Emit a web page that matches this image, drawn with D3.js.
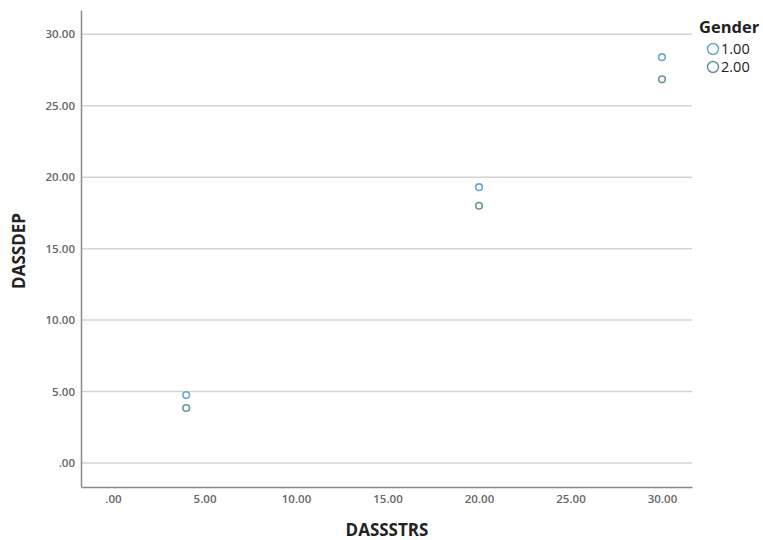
<!DOCTYPE html>
<html><head><meta charset="utf-8">
<script src="https://cdn.jsdelivr.net/npm/d3@7"></script>
<style>body{margin:0;background:#fff;}svg{display:block;}</style>
</head><body>
<svg id="chart" width="763" height="540"></svg>
<script>
const xTicks = [0, 5, 10, 15, 20, 25, 30];
const yTicks = [0, 5, 10, 15, 20, 25, 30];
const genders = ["1.00", "2.00"];
const genderColors = ["#68a9cc", "#6a959c"];
const dassstrs = [4, 4, 20, 20, 30, 30];
const dassdep = [4.75, 3.85, 19.3, 18.0, 28.4, 26.85];
const gender = ["1.00", "2.00", "1.00", "2.00", "1.00", "2.00"];

const svg = d3.select("#chart");
const L = 81, R = 692, T = 10, B = 487;
const x = d3.scaleLinear().domain([-1.75, 31.64]).range([L, R]);
const y = d3.scaleLinear().domain([-1.68, 31.7]).range([B, T]);
const color = d3.scaleOrdinal().domain(genders).range(genderColors);
const font = "'Open Sans', 'Liberation Sans', sans-serif";

// gridlines
svg.append("g").selectAll("line").data(yTicks).join("line")
  .attr("x1", L).attr("x2", R)
  .attr("y1", d => y(d)).attr("y2", d => y(d))
  .attr("stroke", "#d4d4d4").attr("stroke-width", 1.5);

const fmt = d => d === 0 ? ".00" : d3.format(".2f")(d);

// axes
const yAxis = svg.append("g").attr("transform", `translate(${L},0)`)
  .call(d3.axisLeft(y).tickValues(yTicks).tickSize(0).tickPadding(6).tickFormat(fmt));
yAxis.select(".domain").attr("stroke", "#8a8a8a").attr("stroke-width", 1.5);
yAxis.selectAll("text").attr("font-family", font).attr("font-size", 11.5)
  .attr("font-weight", 600).attr("fill", "#666");

const xAxis = svg.append("g").attr("transform", `translate(0,${B})`)
  .call(d3.axisBottom(x).tickValues(xTicks).tickSize(0).tickPadding(8).tickFormat(fmt));
xAxis.select(".domain").attr("stroke", "#8a8a8a").attr("stroke-width", 1.5);
xAxis.selectAll("text").attr("font-family", font).attr("font-size", 11.5)
  .attr("font-weight", 600).attr("fill", "#666");

// points
const pts = dassstrs.map((v, i) => ({x: v, y: dassdep[i], g: gender[i]}));
svg.append("g").selectAll("circle").data(pts).join("circle")
  .attr("cx", d => x(d.x)).attr("cy", d => y(d.y)).attr("r", 3.3)
  .attr("fill", "none").attr("stroke", d => color(d.g)).attr("stroke-width", 1.6);

// axis titles
svg.append("text").attr("x", 387).attr("y", 536).attr("text-anchor", "middle")
  .attr("font-family", font).attr("font-weight", "bold").attr("font-size", 17)
  .attr("fill", "#222").text("DASSSTRS");
svg.append("text").attr("transform", "translate(25,251) rotate(-90)").attr("text-anchor", "middle")
  .attr("font-family", font).attr("font-weight", "bold").attr("font-size", 17)
  .attr("fill", "#222").text("DASSDEP");

// legend
const lg = svg.append("g");
lg.append("text").attr("x", 699).attr("y", 33).attr("font-family", font)
  .attr("font-weight", "bold").attr("font-size", 16.5).attr("fill", "#222").text("Gender");
const items = lg.selectAll("g.item").data(genders).join("g").attr("class", "item")
  .attr("transform", (d, i) => `translate(0,${49 + i * 18})`);
items.append("circle").attr("cx", 713).attr("cy", 0).attr("r", 5.5)
  .attr("fill", "none").attr("stroke", d => color(d)).attr("stroke-width", 1.5);
items.append("text").attr("x", 721).attr("y", 5).attr("font-family", font)
  .attr("font-size", 14.5).attr("fill", "#222").text(d => d);
</script>
</body></html>
